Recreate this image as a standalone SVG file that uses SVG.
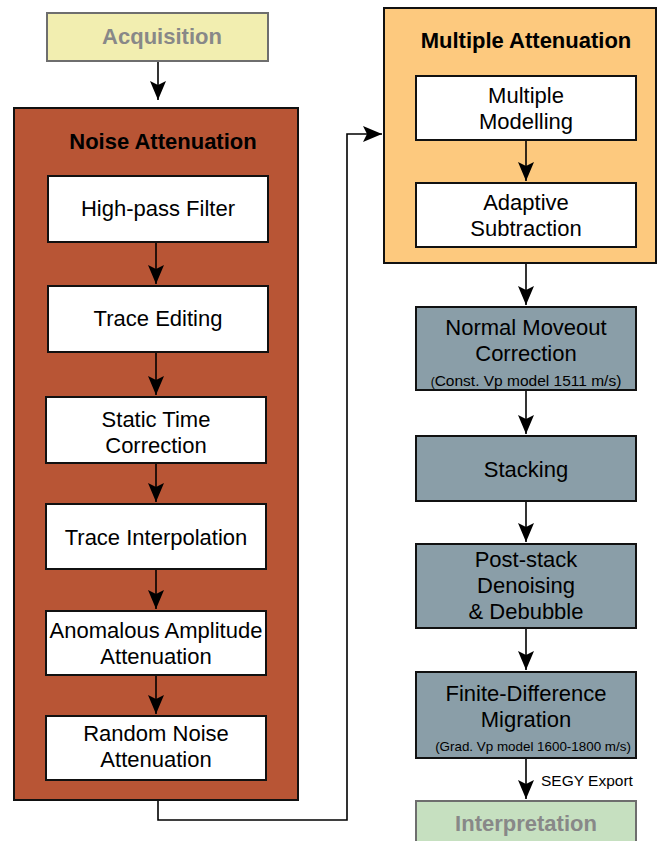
<svg xmlns="http://www.w3.org/2000/svg" width="658" height="841" viewBox="0 0 658 841">
  <style>
    text { font-family: "Liberation Sans", Arial, sans-serif; font-size: 22px; text-anchor: middle; fill: #000; }
    .title { font-weight: bold; }
    .muted { font-weight: bold; fill: #888; }
    .small { font-size: 15.5px; }
    .tiny { font-size: 13.4px; }
    .note { font-size: 15.5px; text-anchor: start; }
    .step { fill: #fff; stroke: #111; stroke-width: 2; }
    .proc { fill: #8a9ea8; stroke: #111; stroke-width: 2; }
    .group-noise { fill: #b85535; stroke: #111; stroke-width: 2; }
    .group-mult { fill: #fdc97e; stroke: #111; stroke-width: 2; }
    .io-in { fill: #f2eeb0; stroke: #6e6e6e; stroke-width: 2; }
    .io-out { fill: #c6e0c0; stroke: #6e6e6e; stroke-width: 2; }
    .link { fill: none; stroke: #000; stroke-width: 1.6; marker-end: url(#head); }
  </style>
  <defs>
    <marker id="head" viewBox="0 0 19 16" refX="19" refY="8" markerWidth="19" markerHeight="16" markerUnits="userSpaceOnUse" orient="auto">
      <path d="M0,0 L19,8 L0,16 L4,8 Z" fill="#000"/>
    </marker>
  </defs>

  <!-- Acquisition -->
  <g id="acquisition">
    <rect class="io-in" x="47" y="13" width="221" height="48"/>
    <text class="muted" x="162" y="44">Acquisition</text>
  </g>

  <!-- Noise attenuation group -->
  <g id="noise-attenuation">
    <rect class="group-noise" x="14" y="108" width="284" height="692"/>
    <text class="title" x="163" y="149">Noise Attenuation</text>
  </g>
  <g id="highpass">
    <rect class="step" x="48" y="176" width="220" height="66"/>
    <text x="158" y="216">High-pass Filter</text>
  </g>
  <g id="trace-editing">
    <rect class="step" x="48" y="286" width="220" height="66"/>
    <text x="158" y="326">Trace Editing</text>
  </g>
  <g id="static-correction">
    <rect class="step" x="46" y="397" width="220" height="66"/>
    <text x="156" y="427">Static Time</text>
    <text x="156" y="453">Correction</text>
  </g>
  <g id="trace-interpolation">
    <rect class="step" x="46" y="504" width="220" height="65"/>
    <text x="156" y="545">Trace Interpolation</text>
  </g>
  <g id="anomalous-amplitude">
    <rect class="step" x="46" y="611" width="220" height="64"/>
    <text x="156" y="638">Anomalous Amplitude</text>
    <text x="156" y="664">Attenuation</text>
  </g>
  <g id="random-noise">
    <rect class="step" x="46" y="716" width="220" height="64"/>
    <text x="156" y="741">Random Noise</text>
    <text x="156" y="767">Attenuation</text>
  </g>

  <!-- Multiple attenuation group -->
  <g id="multiple-attenuation">
    <rect class="group-mult" x="384" y="8" width="272" height="255"/>
    <text class="title" x="526" y="48">Multiple Attenuation</text>
  </g>
  <g id="multiple-modelling">
    <rect class="step" x="416" y="76" width="220" height="64"/>
    <text x="526" y="103">Multiple</text>
    <text x="526" y="129">Modelling</text>
  </g>
  <g id="adaptive-subtraction">
    <rect class="step" x="416" y="183" width="220" height="64"/>
    <text x="526" y="210">Adaptive</text>
    <text x="526" y="236">Subtraction</text>
  </g>

  <!-- Post-processing chain -->
  <g id="nmo">
    <rect class="proc" x="416" y="307" width="220" height="83"/>
    <text x="526" y="335">Normal Moveout</text>
    <text x="526" y="361">Correction</text>
    <text class="small" x="526" y="386"><tspan font-size="12">(</tspan>Const. Vp model 1511 m/s)</text>
  </g>
  <g id="stacking">
    <rect class="proc" x="416" y="436" width="220" height="65"/>
    <text x="526" y="477">Stacking</text>
  </g>
  <g id="post-stack">
    <rect class="proc" x="416" y="544" width="220" height="84"/>
    <text x="526" y="567">Post-stack</text>
    <text x="526" y="593">Denoising</text>
    <text x="526" y="619">&amp; Debubble</text>
  </g>
  <g id="fd-migration">
    <rect class="proc" x="416" y="672" width="220" height="86"/>
    <text x="526" y="701">Finite-Difference</text>
    <text x="526" y="727">Migration</text>
    <text class="tiny" x="533" y="751">(Grad. Vp model 1600-1800 m/s)</text>
  </g>
  <g id="interpretation">
    <rect class="io-out" x="416" y="801" width="220" height="50"/>
    <text class="muted" x="526" y="831">Interpretation</text>
  </g>

  <!-- Connectors -->
  <g id="connectors">
    <line class="link" x1="158" y1="62" x2="158" y2="100"/>
    <line class="link" x1="156" y1="243" x2="156" y2="284"/>
    <line class="link" x1="156" y1="353" x2="156" y2="395"/>
    <line class="link" x1="156" y1="464" x2="156" y2="502"/>
    <line class="link" x1="156" y1="570" x2="156" y2="609"/>
    <line class="link" x1="156" y1="676" x2="156" y2="714"/>
    <path class="link" d="M158,801 V820 H347 V134 H382"/>
    <line class="link" x1="526" y1="141" x2="526" y2="181"/>
    <line class="link" x1="526" y1="264" x2="526" y2="305"/>
    <line class="link" x1="526" y1="391" x2="526" y2="434"/>
    <line class="link" x1="526" y1="502" x2="526" y2="542"/>
    <line class="link" x1="526" y1="629" x2="526" y2="670"/>
    <line class="link" x1="526" y1="759" x2="526" y2="799"/>
    <text class="note" x="541" y="786">SEGY Export</text>
  </g>
</svg>
